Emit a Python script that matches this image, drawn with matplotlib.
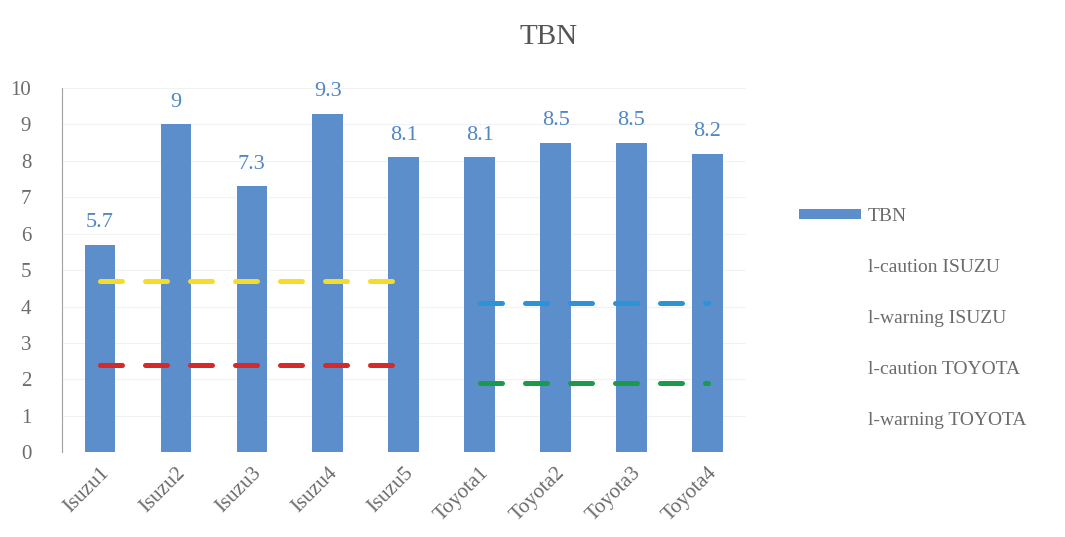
import numpy as np
import matplotlib.pyplot as plt
from matplotlib.lines import Line2D

categories = ['Isuzu1', 'Isuzu2', 'Isuzu3', 'Isuzu4', 'Isuzu5',
              'Toyota1', 'Toyota2', 'Toyota3', 'Toyota4']
tbn = [5.7, 9, 7.3, 9.3, 8.1, 8.1, 8.5, 8.5, 8.2]
nan = np.nan
caution_isuzu = [4.7, 4.7, 4.7, 4.7, 4.7, nan, nan, nan, nan]
warning_isuzu = [2.4, 2.4, 2.4, 2.4, 2.4, nan, nan, nan, nan]
caution_toyota = [nan, nan, nan, nan, nan, 4.1, 4.1, 4.1, 4.1]
warning_toyota = [nan, nan, nan, nan, nan, 1.9, 1.9, 1.9, 1.9]

plt.rcParams['font.family'] = ['Liberation Serif', 'DejaVu Serif']
text_grey = '#6b6b6b'
bar_blue = '#5b8ecb'

fig = plt.figure(figsize=(10.65, 5.37), dpi=100)
ax = fig.add_axes([0.058, 0.158, 0.642, 0.678])

x = np.arange(len(categories))
bars = ax.bar(x, tbn, width=0.4, color=bar_blue, zorder=2)
for xi, v in zip(x, tbn):
    ax.text(xi, v + 0.35, f'{v:g}', ha='center', va='bottom',
            fontsize=16, color='#4f86c6')

# threshold lines
line_styles = [
    (caution_isuzu, '#f5dc2a', 'l-caution ISUZU'),
    (warning_isuzu, '#d62a2a', 'l-warning ISUZU'),
    (caution_toyota, '#2b93d6', 'l-caution TOYOTA'),
    (warning_toyota, '#1a9a4a', 'l-warning TOYOTA'),
]
for vals, col, lab in line_styles:
    ln, = ax.plot(x, vals, color=col, linewidth=3.6, zorder=3)
    ln.set_dashes((4.4, 4.6))
    ln.set_dash_capstyle('round')

ax.set_xlim(-0.5, len(categories) - 0.5)
ax.set_ylim(0, 10)
ax.set_yticks(range(0, 11))
ax.set_xticks(x)
ax.set_xticklabels(categories, rotation=45, ha='right', rotation_mode='anchor')
ax.tick_params(axis='both', length=0, labelsize=15, colors=text_grey)
ax.tick_params(axis='x', pad=8)
ax.tick_params(axis='y', pad=22)
ax.grid(axis='y', color='#f2f2f2', linewidth=0.8, zorder=0)
for side in ['top', 'right', 'bottom']:
    ax.spines[side].set_visible(False)
ax.spines['left'].set_color('#a0a0a0')

fig.suptitle('TBN', x=0.515, y=0.955, fontsize=21, color='#555555')

handles = [bars] + [Line2D([], [], color='none') for _ in line_styles]
labels = ['TBN'] + [s[2] for s in line_styles]
leg = fig.legend(handles, labels, loc='upper left', bbox_to_anchor=(0.737, 0.638),
                 frameon=False, fontsize=14, labelspacing=1.75,
                 handlelength=3.2, handleheight=0.45, handletextpad=0.35,
                 borderpad=0.2)
for t in leg.get_texts():
    t.set_color(text_grey)

fig.savefig('out.png', dpi=100)
